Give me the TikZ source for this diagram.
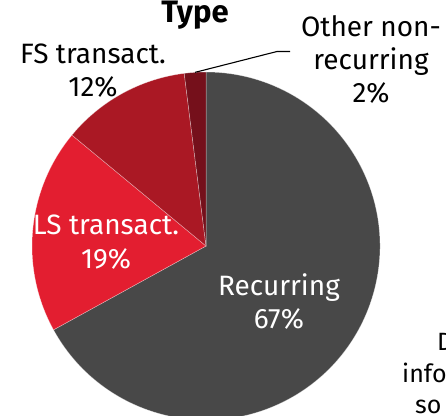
\documentclass[tikz,border=0pt]{standalone}
\usepackage{fontspec}
\setmainfont{Fira Sans}
\usetikzlibrary{positioning, calc}
\definecolor{pieGray}{RGB}{72, 72, 72}
\definecolor{pieRed}{RGB}{227, 30, 48}
\definecolor{pieDarkRed}{RGB}{170, 24, 36}
\definecolor{pieMaroon}{RGB}{117, 16, 27}

\begin{document}
\begin{tikzpicture}[
        x=1pt, y=1pt,
        slice/.style={draw=white, draw opacity=0.45, line width=0.5pt},
        lbl/.style={align=center, inner sep=0pt, anchor=base, font=\fontsize{28}{33}\selectfont},
        inlbl/.style={lbl, text=white},
        side/.style={inner sep=0pt, anchor=base west, font=\fontsize{25}{31}\selectfont},
        leader/.style={draw=black, line width=1.1pt}
    ]
        \useasboundingbox (0,0) rectangle (446,415);
        \clip (0,0) rectangle (446,415);
        \coordinate (c) at (206,169);

        % Slices
        \fill[pieGray, slice] (c) -- ++(208.8:174pt) arc (208.8:450:174pt) -- cycle;
        \fill[pieRed, slice] (c) -- ++(140.4:174pt) arc (140.4:208.8:174pt) -- cycle;
        \fill[pieDarkRed, slice] (c) -- ++(97.2:174pt) arc (97.2:140.4:174pt) -- cycle;
        \fill[pieMaroon, slice] (c) -- ++(90:174pt) arc (90:97.2:174pt) -- cycle;

        % Title
        \node[lbl, font=\fontsize{31}{33}\selectfont\bfseries] (title) at (195,392) {Type};

        % Labels (base = last line)
        \node[lbl] (fs) at (93,318) {FS transact.\\12\%};
        \node[lbl] (other) at (371,312) {Other non-\\recurring\\2\%};
        \node[inlbl] (ls) at (106,147) {LS transact.\\19\%};
        \node[inlbl] (rec) at (279,87) {Recurring\\67\%};

        % Leader line
        \coordinate (otheredge) at ($(c)+(93.6:174pt)$);
        \coordinate (otherknee) at (277,363.5);
        \coordinate (otherend) at (290,363.5);
        \draw[leader] (otheredge) -- (otherknee) -- (otherend);

        % Next chart (cut off)
        \node[side] (d1) at (437,65) {D};
        \node[side] (d2) at (402,33) {info};
        \node[side] (d3) at (415,2) {so};
    \end{tikzpicture}
\end{document}
